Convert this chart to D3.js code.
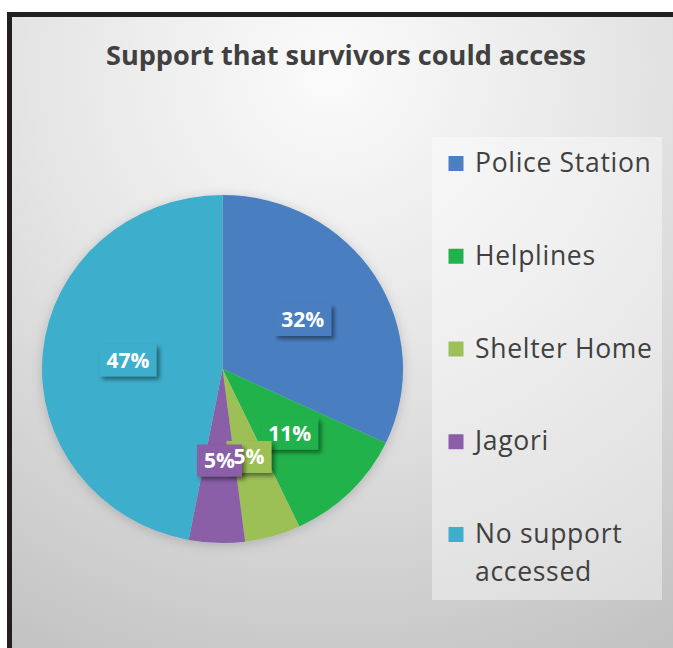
<!DOCTYPE html>
<html>
<head>
<meta charset="utf-8">
<script src="https://cdn.jsdelivr.net/npm/d3@7"></script>
<style>
  html, body { margin: 0; padding: 0; background: #ffffff; overflow: hidden; }
  svg { display: block; }
</style>
</head>
<body>
<svg id="chart" width="673" height="648"></svg>
<script>
// Chart content
const title = "Support that survivors could access";
const categories = ["Police Station", "Helplines", "Shelter Home", "Jagori", "No support accessed"];
const values = [32, 11, 5, 5, 47];
const valueLabels = ["32%", "11%", "5%", "5%", "47%"];
const sliceColors = ["#4a7fc1", "#21b24c", "#9cbf57", "#8a5ea8", "#3eaecb"];

const W = 673, H = 648;
const svg = d3.select("#chart");
const defs = svg.append("defs");

// Chart-area background: soft radial light falling off to grey
const bg = defs.append("radialGradient")
  .attr("id", "bgGrad").attr("gradientUnits", "userSpaceOnUse")
  .attr("cx", 330).attr("cy", 70).attr("r", 660);
bg.append("stop").attr("offset", 0).attr("stop-color", "#fbfbfb");
bg.append("stop").attr("offset", 0.45).attr("stop-color", "#e5e5e5");
bg.append("stop").attr("offset", 1).attr("stop-color", "#c2c2c2");

// Shadows for pie and value labels
const pieShadow = defs.append("filter").attr("id", "pieShadow")
  .attr("x", "-20%").attr("y", "-20%").attr("width", "140%").attr("height", "140%");
pieShadow.append("feDropShadow").attr("dx", 0).attr("dy", 2)
  .attr("stdDeviation", 6).attr("flood-color", "#000").attr("flood-opacity", 0.18);

const lblShadow = defs.append("filter").attr("id", "lblShadow")
  .attr("x", "-30%").attr("y", "-30%").attr("width", "170%").attr("height", "170%");
lblShadow.append("feDropShadow").attr("dx", 3).attr("dy", 3)
  .attr("stdDeviation", 2).attr("flood-color", "#000").attr("flood-opacity", 0.45);

// Chart area and its heavy dark border along the top and left edges
svg.append("rect")
  .attr("x", 7).attr("y", 12)
  .attr("width", W - 7).attr("height", H - 12)
  .attr("fill", "url(#bgGrad)");
svg.append("path")
  .attr("d", `M9.5,${H} V14.5 H${W}`)
  .attr("fill", "none")
  .attr("stroke", "#231f20").attr("stroke-width", 5);

// Title
svg.append("text")
  .attr("x", 346).attr("y", 65)
  .attr("text-anchor", "middle")
  .attr("font-family", "'Open Sans', sans-serif")
  .attr("font-weight", 700)
  .attr("font-size", 26)
  .attr("fill", "#404040")
  .attr("textLength", 480).attr("lengthAdjust", "spacingAndGlyphs")
  .text(title);

// Pie geometry (slightly taller-than-wide scaling kept via ry/rx)
const cx = 222.5, cy = 369, rx = 180.5, ry = 174;
const yScale = ry / rx;

const data = categories.map((c, i) => ({ name: c, value: values[i], label: valueLabels[i], color: sliceColors[i] }));
const pie = d3.pie().sort(null).value(d => d.value);
const arcs = pie(data);
const arc = d3.arc().innerRadius(0).outerRadius(rx);
const labelArc = d3.arc().innerRadius(95).outerRadius(95);

const pieG = svg.append("g")
  .attr("transform", `translate(${cx},${cy}) scale(1,${yScale})`)
  .attr("filter", "url(#pieShadow)");
pieG.selectAll("path").data(arcs).join("path")
  .attr("d", arc)
  .attr("fill", d => d.data.color);

// Value labels: slice-coloured boxes first, then all texts on top
const lblG = svg.append("g").attr("transform", `translate(${cx},${cy})`);
const pos = arcs.map(d => {
  const [lx, ly0] = labelArc.centroid(d);
  return [lx, ly0 * yScale];
});
const boxLayer = lblG.append("g");
const textLayer = lblG.append("g");
arcs.forEach((d, i) => {
  const [lx, ly] = pos[i];
  const t = textLayer.append("text")
    .attr("x", lx).attr("y", ly + 7.5)
    .attr("text-anchor", "middle")
    .attr("font-family", "'Open Sans', sans-serif")
    .attr("font-weight", 700)
    .attr("font-size", 21)
    .attr("fill", "#ffffff")
    .text(d.data.label);
  const w = t.node().getComputedTextLength();
  boxLayer.append("rect")
    .attr("x", lx - w / 2 - 7).attr("y", ly - 16)
    .attr("width", w + 14).attr("height", 32)
    .attr("fill", d.data.color)
    .attr("filter", "url(#lblShadow)");
});

// Legend
const legX = 432, legY = 137, legW = 230, legH = 463;
svg.append("rect")
  .attr("x", legX).attr("y", legY).attr("width", legW).attr("height", legH)
  .attr("fill", "#ffffff").attr("fill-opacity", 0.4);

const rowBase = d3.scalePoint().domain(categories).range([172, 543]);
const maxTextW = 185;
const legG = svg.append("g");
categories.forEach((c, i) => {
  const base = rowBase(c);
  legG.append("rect")
    .attr("x", 448.5).attr("y", base - 16)
    .attr("width", 15).attr("height", 15)
    .attr("fill", sliceColors[i]);
  const t = legG.append("text")
    .attr("x", 475).attr("y", base)
    .attr("font-family", "'Open Sans', sans-serif")
    .attr("font-size", 26.5)
    .attr("letter-spacing", 0.7)
    .attr("fill", "#404040");
  // word wrap within the legend width
  const words = c.split(" ");
  let line = [];
  let tspan = t.append("tspan").attr("x", 475).attr("dy", 0);
  words.forEach(wd => {
    line.push(wd);
    tspan.text(line.join(" "));
    if (tspan.node().getComputedTextLength() > maxTextW && line.length > 1) {
      line.pop();
      tspan.text(line.join(" "));
      line = [wd];
      tspan = t.append("tspan").attr("x", 475).attr("dy", 38).text(wd);
    }
  });
});
</script>
</body>
</html>
